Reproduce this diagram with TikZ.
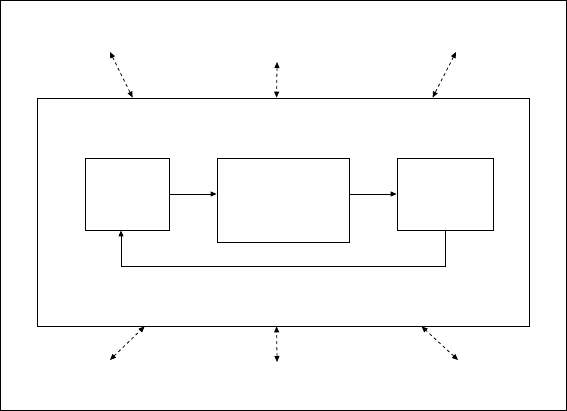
\documentclass[tikz,border=0pt]{standalone}
\usepackage{tikz}
\usetikzlibrary{arrows.meta, positioning, calc}
\tikzset{
  block/.style={
    rectangle, draw=black, line width=0.8pt, inner sep=0pt
  },
  flow/.style={-{Triangle[length=6pt, width=5pt]}, line width=0.8pt},
  link/.style={{Triangle[length=6pt, width=5pt]}-{Triangle[length=6pt, width=5pt]},
    line width=0.8pt, dash pattern=on 3pt off 3pt},
}

\begin{document}
\begin{tikzpicture}[x=1pt, y=-1pt]
  \useasboundingbox (0,0) rectangle (567,411);
  \draw[line width=0.8pt] (0.5,0.5) rectangle (566.5,410.5);

  % Enclosing system
  \node[block, minimum width=492pt, minimum height=228pt] (sys) at (283,212) {};

  % Inner blocks
  \node[block, minimum width=84pt, minimum height=72pt] (inbox) at (127,194) {};
  \node[block, minimum width=132pt, minimum height=84pt] (midbox) at (283,200) {};
  \node[block, minimum width=96pt, minimum height=72pt] (outbox) at (445,194) {};

  % Outside ends
  \coordinate (tl) at (110,52);
  \coordinate (tm) at (277,62);
  \coordinate (tr) at (456,52);
  \coordinate (bl) at (110,360);
  \coordinate (bm) at (277,362);
  \coordinate (br) at (458,360);

  % Arrows
  \draw[flow] (inbox.east) -- (inbox.east -| midbox.west);
  \draw[flow] (outbox.west -| midbox.east) -- (outbox.west);
  \draw[flow] (outbox.south) -- ++(0,36) -| ([xshift=-6pt]inbox.south);

  % Exchanges with the outside
  \draw[link] (tl) -- ([xshift=96pt]sys.north west);
  \draw[link] (tm) -- ([xshift=240pt]sys.north west);
  \draw[link] (tr) -- ([xshift=396pt]sys.north west);
  \draw[link] (bl) -- ([xshift=108pt]sys.south west);
  \draw[link] (bm) -- ([xshift=240pt]sys.south west);
  \draw[link] (br) -- ([xshift=385pt]sys.south west);

\end{tikzpicture}
\end{document}
